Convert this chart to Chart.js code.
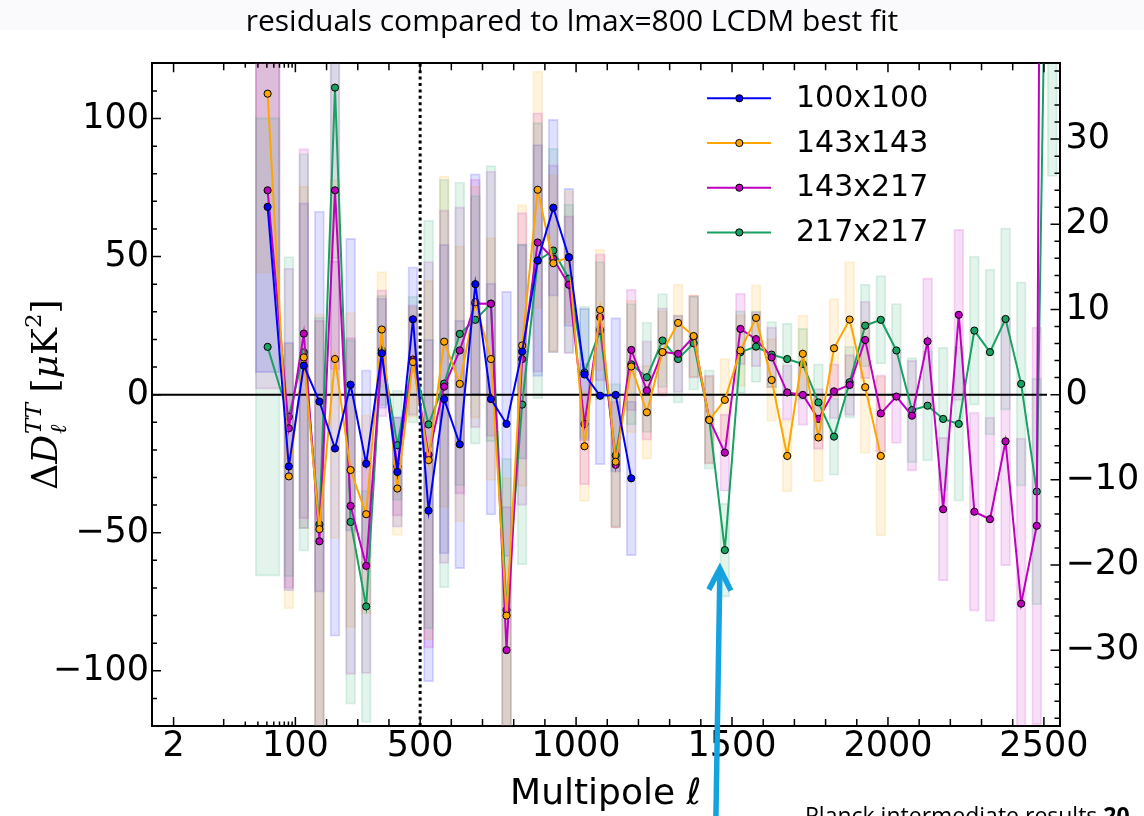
<!DOCTYPE html>
<html>
<head>
<meta charset="utf-8">
<script src="https://cdn.jsdelivr.net/npm/chart.js@4.4.1/dist/chart.umd.min.js"></script>
<style>
html,body{margin:0;padding:0;background:#fff;overflow:hidden;}
#wrap{width:1144px;height:816px;position:relative;}
</style>
</head>
<body>
<div id="wrap"><canvas id="c" width="1144" height="816"></canvas></div>
<script>
// ---------------- data ----------------
const ell = [41,81,127,177,227,277,327,377,427,477,527,577,627,677,727,777,827,877,927,977,1027,1077,1127,1177,1227,1277,1327,1377,1427,1477,1527,1577,1627,1677,1727,1777,1827,1877,1927,1977,2027,2077,2127,2177,2227,2277,2327,2377,2427,2477,2527];

const seriesNames = ['100x100','143x143','143x217','217x217'];
const seriesColors = ['#0000ff','#ffa500','#bf00bf','#17a262'];

const v100x100 = [68,-26,10.5,-2.5,-19.5,3.6,-25,15,-28,27.3,-42,-1.6,-18,40,-1.6,-10.6,15.6,48.6,67.7,49.7,7.3,-0.4,-0.1,-30.3];
const e100x100 = [60,45,59,69,68,53,34,20,20,19,62,56,45,40,42,48,39,42,32,25,24,25,28,28];

const v143x143 = [109,-29.6,13.5,-48.7,12.9,-27.3,-43.3,23.6,-34,11.8,-23.7,19.2,3.9,33.5,12.9,-80,17.8,74.2,47.6,49.8,-18.7,30.7,-24.3,10.2,-6.4,15.4,26,21.2,-9.2,-1.9,16,27.8,5.3,-22.2,14.8,-15.5,16.8,27.2,2.7,-22.2];
const e143x143 = [65,48,62,78,65,57,36,21,17,20,65,60,50,42,44,50,51,43,32,24,20,22,24,24,17,15,14,15,16,15,13,12,15,13,14,16,18,21,24,29];

const v143x217 = [74,-12.2,22.1,-53.1,74,-40.3,-62,15,-26,12.5,-21.8,2.9,16,33,32.9,-92.5,12.9,55.1,49.2,39.8,-10.6,28,-25.4,16.2,1.5,15.4,14.8,21,-9,-21,23.8,20.1,13.5,0.8,-0.1,-8.8,1.2,3.5,19.8,-6.8,-0.7,-7.6,19.3,-41.5,28.9,-42.4,-45.1,-16.9,-75.7,-47.5,1100];
const e143x217 = [72,58,67,80,65,61,39,23,18,20,70,64,52,45,48,52,53,47,34,25,22,23,23,22,18,16,14,15,16,14,13,10,11,10,11,11,10,11,14,14,17,20,23,26,31,36,37,45,60,72,900];

const v217x217 = [17.3,-8,15.3,-47,111.2,-46.1,-76.7,16,-18.3,12.7,-10.8,4,22,27.1,33,-78,-3.6,48.5,52.2,42,8,23.2,-22,11,6.3,19.6,12.9,18.6,-9,-56.3,15.4,17.4,14.5,12.9,11.1,-2.8,-15.2,4.5,25,27.1,16,-5.6,-4,-8.8,-10.6,23.2,15.4,27.4,3.9,-35.1,320];
const e217x217 = [83,58,72,75,62,66,42,20,20,23,74,74,55,45,50,55,58,50,37,27,24,25,26,22,20,17,16,17,18,17,15,13,12,13,13,14,14,13,15,16,17,19,20,26,28,27,30,33,37,41,241];

// tick values / labels
const xTickValues = [2,100,500,1000,1500,2000,2500];
const xMinorLog = [10,20,30,40,50,60,70,80,90];
const xMinorLin = [200,300,400,600,700,800,900,1100,1200,1300,1400,1600,1700,1800,1900,2100,2200,2300,2400];
const yTickValues = [-100,-50,0,50,100];
const yMinorTicks = [-120,-110,-90,-80,-70,-60,-40,-30,-20,-10,10,20,30,40,60,70,80,90,110,120];
const y2TickValues = [-30,-20,-10,0,10,20,30];
const y2MinorTicks = [-38,-36,-34,-32,-28,-26,-24,-22,-18,-16,-14,-12,-8,-6,-4,-2,2,4,6,8,12,14,16,18,22,24,26,28,32,34,36,38];
const zeroLine = [{x:1,y:0},{x:2510,y:0}];
const lmaxLine = [{x:500,y:-120},{x:500,y:120}];
const arrowTip = {x:1461, y:-63};

const allValues = [v100x100, v143x143, v143x217, v217x217];
const allErrors = [e100x100, e143x143, e143x217, e217x217];

// ---------------- hybrid log/linear multipole axis ----------------
class HybridScale extends Chart.Scale {
  static id = 'hybrid';
  static defaults = {};
  determineDataLimits() {
    this.min = this.options.min;
    this.max = this.options.max;
  }
  buildTicks() {
    return xTickValues.map(v => ({value: v}));
  }
  getLabelForValue(v) { return String(v); }
  toDecimal(v) {
    const o = this.options;
    const b = o.breakValue, f = o.logFraction;
    const lmin = Math.log10(this.min), lb = Math.log10(b);
    if (v <= b) return f * (Math.log10(Math.max(v, 1e-6)) - lmin) / (lb - lmin);
    return f + (1 - f) * (v - b) / (this.max - b);
  }
  fromDecimal(d) {
    const o = this.options;
    const b = o.breakValue, f = o.logFraction;
    const lmin = Math.log10(this.min), lb = Math.log10(b);
    if (d <= f) return Math.pow(10, lmin + (d / f) * (lb - lmin));
    return b + (d - f) / (1 - f) * (this.max - b);
  }
  getPixelForValue(v) { return this.getPixelForDecimal(this.toDecimal(v)); }
  getValueForPixel(p) { return this.fromDecimal(this.getDecimalForPixel(p)); }
  getPixelForTick(i) {
    const t = this.ticks;
    if (i < 0 || i > t.length - 1) return null;
    return this.getPixelForValue(t[i].value);
  }
}
Chart.register(HybridScale);

// ---------------- helpers ----------------
function rgba(hex, a) {
  const n = parseInt(hex.slice(1), 16);
  return 'rgba(' + ((n >> 16) & 255) + ',' + ((n >> 8) & 255) + ',' + (n & 255) + ',' + a + ')';
}
const minusFmt = v => (v < 0 ? '\u2212' + Math.abs(v) : String(v));

// ---------------- datasets ----------------
const datasets = [];
allValues.forEach((vals, k) => {
  const errs = allErrors[k];
  const rows = vals.map((v, i) => ({x: ell[i], y: [v - errs[i], v + errs[i]]}));
  const common = {
    type: 'bar', xAxisID: 'x', yAxisID: 'y', grouped: false,
    backgroundColor: rgba(seriesColors[k], 0.12),
    borderColor: rgba(seriesColors[k], 0.16),
    borderWidth: 1.2, borderSkipped: false,
    order: 14 - k, clip: 0
  };
  datasets.push(Object.assign({}, common, {label: seriesNames[k] + ' err', data: rows.slice(1), barThickness: 10}));
  datasets.push(Object.assign({}, common, {label: seriesNames[k] + ' err0', data: rows.slice(0, 1), barThickness: 25}));
});
datasets.push({
  type: 'line', label: 'zero', data: zeroLine, xAxisID: 'x', yAxisID: 'y',
  borderColor: '#000', borderWidth: 2, pointRadius: 0, order: 6, clip: 0
});
datasets.push({
  type: 'line', label: 'lmax', data: lmaxLine, xAxisID: 'x', yAxisID: 'y',
  borderColor: '#000', borderWidth: 3, borderDash: [3, 3.4], borderCapStyle: 'butt',
  pointRadius: 0, order: 5, clip: 0
});
allValues.forEach((vals, k) => {
  datasets.push({
    type: 'line', label: seriesNames[k],
    data: vals.map((v, i) => ({x: ell[i], y: v})),
    xAxisID: 'x', yAxisID: 'y',
    borderColor: seriesColors[k], borderWidth: 2,
    pointRadius: 3.6, pointHoverRadius: 3.6,
    pointBackgroundColor: seriesColors[k], pointBorderColor: '#000', pointBorderWidth: 1,
    tension: 0, order: 1 + k, clip: 0
  });
});

// ---------------- decoration plugin (ticks, legend, labels, arrow) ----------------
const decor = {
  id: 'decor',
  beforeDraw(chart) {
    const ctx = chart.ctx;
    ctx.save();
    ctx.fillStyle = '#ffffff';
    ctx.fillRect(0, 0, chart.width, chart.height);
    ctx.fillStyle = '#fafafc';
    ctx.fillRect(0, 0, chart.width, 30);
    ctx.restore();
  },
  afterDraw(chart) {
    const ctx = chart.ctx, a = chart.chartArea;
    const sx = chart.scales.x, sy = chart.scales.y, sy2 = chart.scales.y2;
    ctx.save();
    // inward ticks
    ctx.strokeStyle = '#000';
    ctx.lineWidth = 1.5;
    ctx.beginPath();
    const tx = (v, len) => {
      const p = sx.getPixelForValue(v);
      ctx.moveTo(p, a.bottom); ctx.lineTo(p, a.bottom - len);
      ctx.moveTo(p, a.top); ctx.lineTo(p, a.top + len);
    };
    xTickValues.forEach(v => tx(v, 9));
    xMinorLin.forEach(v => tx(v, 7));
    xMinorLog.forEach(v => tx(v, v === 10 ? 7 : 4.5));
    const ty = (s, v, len, right) => {
      const p = s.getPixelForValue(v);
      if (right) { ctx.moveTo(a.right, p); ctx.lineTo(a.right - len, p); }
      else { ctx.moveTo(a.left, p); ctx.lineTo(a.left + len, p); }
    };
    yTickValues.forEach(v => ty(sy, v, 9, false));
    yMinorTicks.forEach(v => ty(sy, v, 5, false));
    y2TickValues.forEach(v => ty(sy2, v, 9, true));
    y2MinorTicks.forEach(v => ty(sy2, v, 5, true));
    ctx.stroke();

    // legend
    seriesNames.forEach((name, k) => {
      const y = 98.3 + k * 44.7;
      ctx.strokeStyle = seriesColors[k];
      ctx.lineWidth = 2;
      ctx.beginPath(); ctx.moveTo(707, y); ctx.lineTo(771, y); ctx.stroke();
      ctx.beginPath(); ctx.arc(739.3, y, 3.6, 0, Math.PI * 2);
      ctx.fillStyle = seriesColors[k]; ctx.fill();
      ctx.lineWidth = 1; ctx.strokeStyle = '#000'; ctx.stroke();
      ctx.fillStyle = '#000';
      ctx.font = '30px "DejaVu Sans"';
      ctx.textBaseline = 'middle';
      ctx.textAlign = 'left';
      ctx.fillText(name, 796, y + 1);
    });

    // y-axis title (rotated, math-like)
    ctx.save();
    ctx.translate(57, (a.top + a.bottom) / 2);
    ctx.rotate(-Math.PI / 2);
    ctx.fillStyle = '#000';
    ctx.textBaseline = 'alphabetic';
    ctx.textAlign = 'left';
    const F = (s, it) => (it ? 'italic ' : '') + s + 'px "DejaVu Serif"';
    const runs = [
      {t: '\u0394', f: F(36, false)},
      {t: 'D', f: F(36, true)},
      {stack: [{t: 'TT', f: F(23, true), dy: -16}, {t: '\u2113', f: F(23, true), dy: 9}]},
      {t: ' [', f: F(36, false)},
      {t: '\u03bc', f: F(36, true)},
      {t: 'K', f: F(36, false)},
      {t: '2', f: F(23, false), dy: -16},
      {t: ']', f: F(36, false)}
    ];
    const w = runs.map(r => {
      if (r.stack) return Math.max(...r.stack.map(s => { ctx.font = s.f; return ctx.measureText(s.t).width; }));
      ctx.font = r.f; return ctx.measureText(r.t).width;
    });
    let xx = -w.reduce((p, c) => p + c, 0) / 2;
    runs.forEach((r, i) => {
      if (r.stack) r.stack.forEach(s => { ctx.font = s.f; ctx.fillText(s.t, xx + 1, s.dy); });
      else { ctx.font = r.f; ctx.fillText(r.t, xx, r.dy || 0); }
      xx += w[i];
    });
    ctx.restore();

    // source note at bottom right (cut by the frame)
    ctx.fillStyle = '#000';
    ctx.textBaseline = 'alphabetic';
    ctx.font = '23px "Open Sans"';
    const note = 'Planck intermediate results ';
    ctx.fillText(note, 805, 824);
    const nw = ctx.measureText(note).width;
    ctx.font = 'bold 23px "Open Sans"';
    ctx.fillText('20', 805 + nw, 824);

    // cyan arrow
    const px = sx.getPixelForValue(arrowTip.x), py = sy.getPixelForValue(arrowTip.y);
    ctx.strokeStyle = '#14a3de';
    ctx.lineWidth = 5.5;
    ctx.lineCap = 'butt';
    ctx.lineJoin = 'miter';
    ctx.beginPath();
    ctx.moveTo(px - 4, chart.height + 4);
    ctx.lineTo(px, py + 3);
    ctx.stroke();
    ctx.beginPath();
    ctx.moveTo(px - 11, py + 21);
    ctx.lineTo(px, py);
    ctx.lineTo(px + 11, py + 22);
    ctx.stroke();
    ctx.restore();
  }
};

// ---------------- chart ----------------
const tickFont = {family: 'DejaVu Sans', size: 35};
new Chart(document.getElementById('c'), {
  type: 'line',
  data: {datasets: datasets},
  plugins: [decor],
  options: {
    responsive: false,
    animation: false,
    devicePixelRatio: 1,
    events: [],
    layout: {padding: 0},
    plugins: {
      legend: {display: false},
      tooltip: {enabled: false},
      title: {
        display: true,
        text: 'residuals compared to lmax=800 LCDM best fit',
        color: '#000',
        font: {family: 'Open Sans', size: 30, weight: 'normal', lineHeight: 1.2},
        padding: {top: 4, bottom: 0}
      }
    },
    scales: {
      x: {
        type: 'hybrid', position: 'bottom', min: 1, max: 2550, breakValue: 100, logFraction: 0.158,
        offset: false,
        grid: {display: false, drawTicks: false},
        border: {display: true, color: '#000', width: 2},
        ticks: {color: '#000', font: tickFont, padding: 0, maxRotation: 0, autoSkip: false},
        title: {display: true, text: 'Multipole \u2113', color: '#000', font: {family: 'DejaVu Sans', size: 36}, padding: {top: 0, bottom: 0}},
        afterFit: s => { s.height = 90; }
      },
      x2: {
        type: 'hybrid', position: 'top', min: 1, max: 2550, breakValue: 100, logFraction: 0.158,
        offset: false,
        grid: {display: false, drawTicks: false},
        border: {display: true, color: '#000', width: 2},
        ticks: {display: false},
        afterFit: s => { s.height = 23.3; }
      },
      y: {
        type: 'linear', position: 'left', min: -120, max: 120,
        grid: {display: false, drawTicks: false},
        border: {display: true, color: '#000', width: 2},
        ticks: {color: '#000', font: tickFont, padding: 3, autoSkip: false, callback: minusFmt},
        afterBuildTicks: s => { s.ticks = yTickValues.map(v => ({value: v})); },
        afterFit: s => { s.width = 152; }
      },
      y2: {
        type: 'linear', position: 'right', min: -38.9, max: 38.9,
        grid: {display: false, drawTicks: false},
        border: {display: true, color: '#000', width: 2},
        ticks: {color: '#000', font: tickFont, padding: 6, autoSkip: false, callback: minusFmt},
        afterBuildTicks: s => { s.ticks = y2TickValues.map(v => ({value: v})); },
        afterFit: s => { s.width = 84.5; }
      }
    }
  }
});
</script>
</body>
</html>
